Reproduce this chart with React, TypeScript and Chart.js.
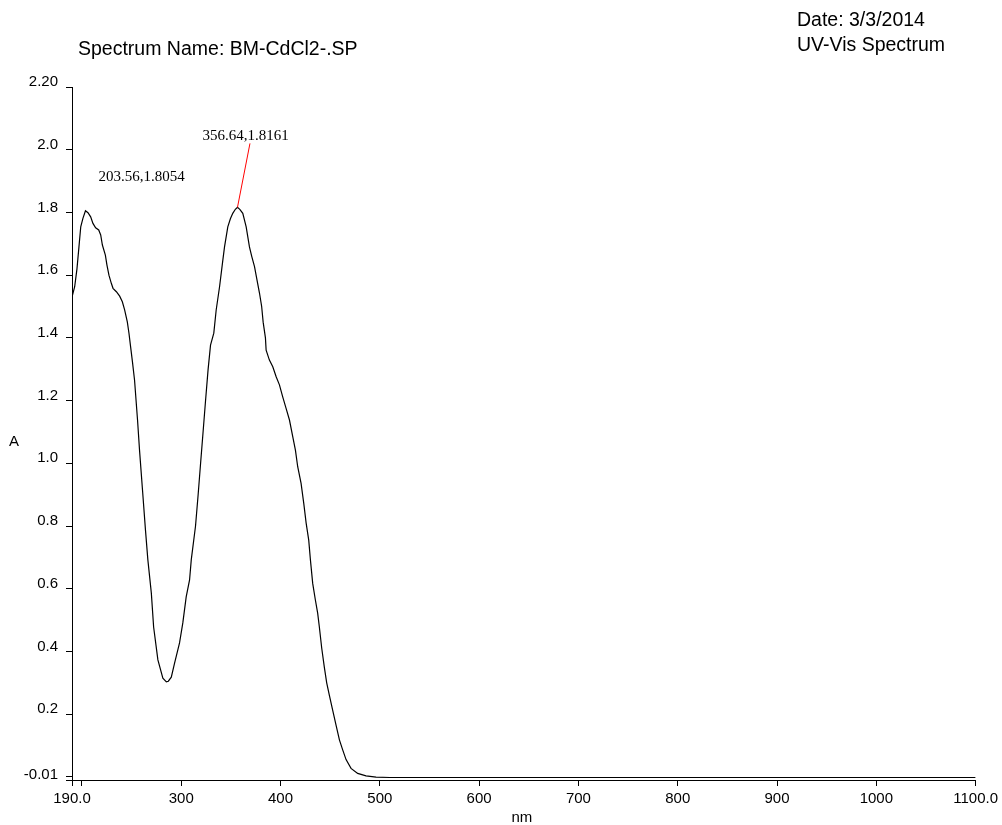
import React, { useEffect, useRef } from "react";
import { Chart, registerables } from "chart.js";

Chart.register(...registerables);

// ---- Data ----
const wavelengths = [
  190, 192.7, 195, 197, 198.8, 201, 203.56, 206.1, 208.8, 211.1, 213.8, 216.9, 218.9, 220.6,
  223.6, 225.2, 227.2, 229.6, 231.3, 234.7, 238, 240.7, 243, 245.7, 247.4, 249, 251, 253, 256,
  258, 261, 264, 266.4, 269.9, 272.2, 276.5, 281.5, 285, 287, 290, 293.3, 298.3, 301.6, 305,
  308.4, 310.1, 314.4, 317, 319.5, 322, 324.5, 327, 329.5, 332.8, 335.2, 338.6, 341.9, 343.6,
  346.9, 349.5, 351.9, 354.5, 356.64, 359, 362, 365.4, 368.7, 371, 373.8, 376, 378.8, 381,
  382.5, 384.8, 385.5, 388.8, 392.2, 395.6, 398.9, 402.2, 405.6, 409, 412.3, 415, 417.3, 420.7,
  423.4, 425.8, 428.4, 430.1, 432.4, 435.1, 437.4, 439.1, 441.5, 444.1, 446.5, 449.2, 452.5,
  455.9, 459.3, 462.6, 466, 471, 477.7, 486.1, 496.2, 510, 600, 700, 800, 900, 1000, 1100,
];
const absorbance = [
  1.53, 1.563, 1.62, 1.69, 1.754, 1.781, 1.8054, 1.799, 1.786, 1.765, 1.751, 1.744, 1.728, 1.696,
  1.664, 1.632, 1.6, 1.574, 1.558, 1.547, 1.533, 1.515, 1.489, 1.451, 1.414, 1.372, 1.32, 1.265,
  1.138, 1.042, 0.915, 0.787, 0.692, 0.586, 0.478, 0.373, 0.315, 0.303, 0.305, 0.318, 0.363,
  0.427, 0.491, 0.574, 0.628, 0.692, 0.8, 0.899, 1.0, 1.1, 1.2, 1.297, 1.377, 1.415, 1.489,
  1.563, 1.648, 1.69, 1.754, 1.78, 1.797, 1.81, 1.8161, 1.81, 1.797, 1.754, 1.69, 1.66, 1.627,
  1.59, 1.543, 1.5, 1.45, 1.4, 1.361, 1.329, 1.308, 1.276, 1.25, 1.212, 1.175, 1.138, 1.085,
  1.042, 0.989, 0.936, 0.872, 0.809, 0.755, 0.692, 0.617, 0.564, 0.522, 0.478, 0.41, 0.35, 0.3,
  0.26, 0.213, 0.165, 0.118, 0.086, 0.055, 0.027, 0.011, 0.003, -0.001, -0.002, -0.002, -0.002,
  -0.002, -0.002, -0.002, -0.002,
];

const xTickValues = [190, 200, 300, 400, 500, 600, 700, 800, 900, 1000, 1100];
const xTickLabels = ["190.0", "", "300", "400", "500", "600", "700", "800", "900", "1000", "1100.0"];
const yTickValues = [-0.01, 0, 0.2, 0.4, 0.6, 0.8, 1.0, 1.2, 1.4, 1.6, 1.8, 2.0, 2.2];
const yTickLabels = ["-0.01", "", "0.2", "0.4", "0.6", "0.8", "1.0", "1.2", "1.4", "1.6", "1.8", "2.0", "2.20"];

const peakWavelengths = [203.56, 356.64];
const peakAbsorbances = [1.8054, 1.8161];
const peakLabels = ["203.56,1.8054", "356.64,1.8161"];

const titleLeft = "Spectrum Name: BM-CdCl2-.SP";
const dateText = "Date: 3/3/2014";
const titleRight = "UV-Vis Spectrum";
const xAxisTitle = "nm";
const yAxisTitle = "A";

const SANS = '"Liberation Sans", Arial, Helvetica, sans-serif';
const SERIF = '"Liberation Serif", "Times New Roman", serif';

const textPlugin = {
  id: "spectrumTexts",
  afterDraw(chart: any) {
    const ctx = chart.ctx as CanvasRenderingContext2D;
    const xs = chart.scales.x;
    const ys = chart.scales.y;
    ctx.save();
    ctx.fillStyle = "#000";
    ctx.font = `19.5px ${SANS}`;
    ctx.textAlign = "left";
    ctx.textBaseline = "alphabetic";
    ctx.fillText(titleLeft, 78, 55);
    ctx.fillText(dateText, 797, 26);
    ctx.fillText(titleRight, 797, 51);

    ctx.font = `15px ${SANS}`;
    ctx.textAlign = "center";
    ctx.textBaseline = "middle";
    ctx.fillText(yAxisTitle, 14, 442);
    ctx.fillText(xAxisTitle, (xs.left + xs.right) / 2 - 2, 818);

    // peak annotations
    ctx.font = `15px ${SERIF}`;
    ctx.textAlign = "left";
    ctx.textBaseline = "middle";
    const p0x = xs.getPixelForValue(peakWavelengths[0]);
    const p0y = ys.getPixelForValue(peakAbsorbances[0]);
    ctx.fillText(peakLabels[0], p0x + 13, p0y - 34);

    const p1x = xs.getPixelForValue(peakWavelengths[1]);
    const p1y = ys.getPixelForValue(peakAbsorbances[1]);
    ctx.strokeStyle = "#ff0000";
    ctx.lineWidth = 1;
    ctx.beginPath();
    ctx.moveTo(p1x, p1y);
    ctx.lineTo(p1x + 12.5, p1y - 64);
    ctx.stroke();
    ctx.fillText(peakLabels[1], p1x - 35, p1y - 71);
    ctx.restore();
  },
};

export default function App() {
  const canvasRef = useRef<HTMLCanvasElement | null>(null);

  useEffect(() => {
    if (!canvasRef.current) return;
    const points = wavelengths.map((w, i) => ({ x: w, y: absorbance[i] }));
    const chart = new Chart(canvasRef.current, {
      type: "scatter",
      data: {
        datasets: [
          {
            data: points,
            showLine: true,
            borderColor: "#000",
            borderWidth: 1.2,
            pointRadius: 0,
            tension: 0,
            fill: false,
          },
        ],
      },
      options: {
        responsive: false,
        animation: false,
        devicePixelRatio: 1,
        layout: { padding: { top: 87, right: 25, left: 0, bottom: 0 } },
        plugins: {
          legend: { display: false },
          tooltip: { enabled: false },
          title: { display: false },
        },
        scales: {
          x: {
            type: "linear",
            min: 190,
            max: 1100,
            afterBuildTicks: (axis: any) => {
              axis.ticks = xTickValues.map((v) => ({ value: v }));
            },
            afterFit: (s: any) => {
              s.height = 45;
            },
            ticks: {
              autoSkip: false,
              maxRotation: 0,
              minRotation: 0,
              padding: 4,
              color: "#000",
              font: { family: SANS, size: 15 },
              callback: (value: any) => {
                const i = xTickValues.indexOf(Number(value));
                return i >= 0 ? xTickLabels[i] : "";
              },
            },
            grid: {
              drawOnChartArea: false,
              drawTicks: true,
              tickLength: 6,
              color: "#000",
              lineWidth: 1,
            },
            border: { display: true, color: "#000", width: 1 },
          },
          y: {
            type: "linear",
            min: -0.01,
            max: 2.2,
            afterBuildTicks: (axis: any) => {
              axis.ticks = yTickValues.map((v) => ({ value: v }));
            },
            afterFit: (s: any) => {
              s.width = 72;
            },
            ticks: {
              autoSkip: false,
              padding: 8,
              labelOffset: -5,
              color: "#000",
              font: { family: SANS, size: 15 },
              callback: (value: any) => {
                const i = yTickValues.findIndex((v) => Math.abs(v - Number(value)) < 1e-9);
                return i >= 0 ? yTickLabels[i] : "";
              },
            },
            grid: {
              drawOnChartArea: false,
              drawTicks: true,
              tickLength: 6,
              color: "#000",
              lineWidth: 1,
            },
            border: { display: true, color: "#000", width: 1 },
          },
        },
      },
      plugins: [textPlugin],
    });
    return () => chart.destroy();
  }, []);

  return (
    <div style={{ position: "absolute", left: 0, top: 0, width: 1002, height: 825, background: "#fff" }}>
      <canvas ref={canvasRef} width={1002} height={825} style={{ display: "block" }} />
    </div>
  );
}
